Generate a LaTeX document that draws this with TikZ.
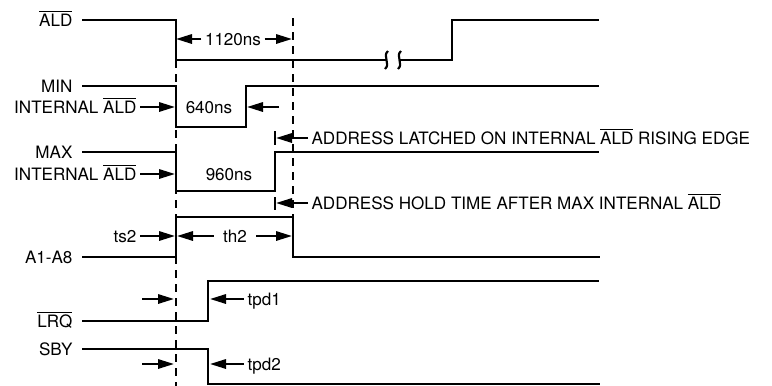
\documentclass[tikz,border=0pt]{standalone}
\usepackage{amsmath}
\usepackage{fontspec}
\setmainfont{TeX Gyre Heros}
\usetikzlibrary{arrows.meta}
\newcommand{\ovl}[1]{$\overline{\mbox{#1}}$}

\begin{document}
\begin{tikzpicture}[x=0.75pt,y=0.75pt,yscale=-1,xscale=1,
  wave/.style={line width=1.6pt},
  guide/.style={line width=1.6pt,dash pattern=on 6pt off 4.5pt},
  arr/.style={line width=1.6pt,-{Triangle[length=12pt,width=7pt]}},
  lbl/.style={inner sep=2.5pt,text height=9.2pt,text depth=0pt,font=\fontsize{12.8}{14}\selectfont}]
\useasboundingbox (0,0) rectangle (772,386);

%Dashed Lines
\draw[guide] (176,60) -- (176,386) ;
\draw[guide] (293,18) -- (293,217) ;

%Waveform: ALD
\draw[wave] (82,20) -- (176,20) -- (176,60) -- (386,60) ;
\draw[wave] (388,51) .. controls (382,56) and (391,64) .. (385,69) ;
\draw[wave] (401,51) .. controls (395,56) and (404,64) .. (398,69) ;
\draw[wave] (400,60) -- (452,60) -- (452,20) -- (599,20) ;
%Waveform: MIN internal ALD
\draw[wave] (82,86) -- (176,86) -- (176,127) -- (246,127) -- (246,86) -- (599,86) ;
%Waveform: MAX internal ALD
\draw[wave] (82,152) -- (176,152) -- (176,191) -- (275,191) -- (275,152) -- (599,152) ;
%Waveform: A1-A8
\draw[wave] (82,257) -- (176,257) -- (176,217) -- (293,217) -- (293,257) -- (600,257) ;
%Waveform: LRQ
\draw[wave] (82,321) -- (208,321) -- (208,281) -- (599,281) ;
%Waveform: SBY
\draw[wave] (82,349) -- (208,349) -- (208,384) -- (600,384) ;

%Latch markers
\draw[wave] (275,131) -- (275,145) ;
\draw[wave] (275,197) -- (275,210) ;

% Text Node
\node[lbl,anchor=east] (ald) at (76,20) {\ovl{ALD}};
% Text Node
\node[lbl,anchor=east] (min) at (76,86) {MIN};
% Text Node
\node[lbl,anchor=east] (intmin) at (140,107) {INTERNAL \ovl{ALD}};
% Text Node
\node[lbl,anchor=east] (max) at (76,152) {MAX};
% Text Node
\node[lbl,anchor=east] (intmax) at (140,174) {INTERNAL \ovl{ALD}};
% Text Node
\node[lbl,anchor=east] (ts) at (140,236) {ts2};
% Text Node
\node[lbl,anchor=east] (addr) at (76,257) {A1-A8};
% Text Node
\node[lbl,anchor=east] (lrq) at (76,321) {\ovl{LRQ}};
% Text Node
\node[lbl,anchor=east] (sby) at (76,349) {SBY};
% Text Node
\node[lbl] (t1120) at (233,39) {1120ns};
% Text Node
\node[lbl] (t640) at (209,107) {640ns};
% Text Node
\node[lbl] (t960) at (229,174) {960ns};
% Text Node
\node[lbl,inner sep=7pt] (th) at (235,236) {th2};
% Text Node
\node[lbl,anchor=west] (tpda) at (244,299) {tpd1};
% Text Node
\node[lbl,anchor=west] (tpdb) at (244,364) {tpd2};
% Text Node
\node[lbl,anchor=west] (latch) at (308,138) {ADDRESS LATCHED ON INTERNAL \ovl{ALD} RISING EDGE};
% Text Node
\node[lbl,anchor=west] (hold) at (308,203) {ADDRESS HOLD TIME AFTER MAX INTERNAL \ovl{ALD}};

%Arrows
\draw[arr] (t1120.west) -- (176,39) ;
\draw[arr] (t1120.east) -- (292,39) ;
\draw[arr] (intmin.east) -- (175,107) ;
\draw[arr] (279,107) -- (247,107) ;
\draw[arr] (intmax.east) -- (175,174) ;
\draw[arr] (latch.west) -- (276,138) ;
\draw[arr] (hold.west) -- (276,203) ;
\draw[arr] (ts.east) -- (175,236) ;
\draw[arr] (th.west) -- (177,236) ;
\draw[arr] (th.east) -- (292,236) ;
\draw[arr] (142,299) -- (174,299) ;
\draw[arr] (tpda.west) -- (210,299) ;
\draw[arr] (142,364) -- (174,364) ;
\draw[arr] (tpdb.west) -- (210,364) ;

\end{tikzpicture}
\end{document}
